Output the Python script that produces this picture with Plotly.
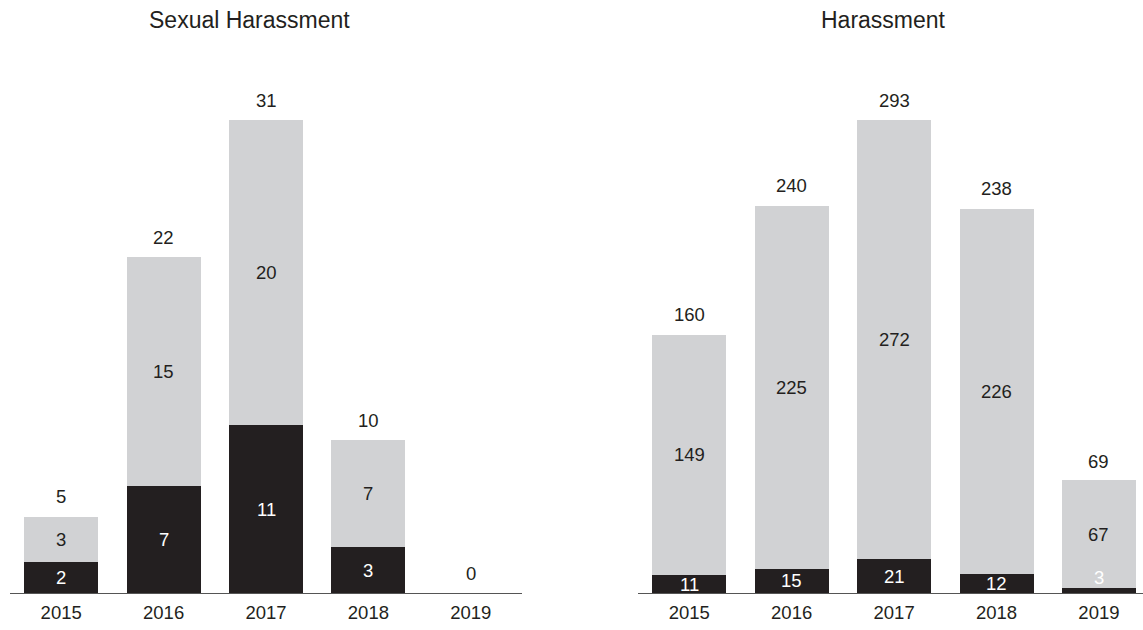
import plotly.graph_objects as go

years = ["2015", "2016", "2017", "2018", "2019"]

sh_title = "Sexual Harassment"
sh_dark = [2, 7, 11, 3, 0]
sh_light = [3, 15, 20, 7, 0]
sh_total = [5, 22, 31, 10, 0]

h_title = "Harassment"
h_dark = [11, 15, 21, 12, 3]
h_light = [149, 225, 272, 226, 67]
h_total = [160, 240, 293, 238, 69]

DARK = "#231f20"
LIGHT = "#d1d2d4"
FONT = "Liberation Sans, Arial, Helvetica, sans-serif"
NUM_SIZE = 18.5

W, H = 1143, 630
MT, MB = 120, 37
PLOT_H = H - MT - MB

fig = go.Figure()

panels = [
    dict(xa="x", ya="y", dark=sh_dark, light=sh_light, total=sh_total, title=sh_title,
         dom=[10 / W, 522 / W], rng=[-0.5, 4.5], tx=249 / W),
    dict(xa="x2", ya="y2", dark=h_dark, light=h_light, total=h_total, title=h_title,
         dom=[638 / W, 1.0], rng=[-0.5, 4.43], tx=883 / W),
]

annotations = []
for i, p in enumerate(panels):
    fig.add_trace(go.Bar(x=years, y=p["dark"], marker=dict(color=DARK, line=dict(width=0)),
                         xaxis=p["xa"], yaxis=p["ya"], showlegend=False, hoverinfo="skip"))
    fig.add_trace(go.Bar(x=years, y=p["light"], marker=dict(color=LIGHT, line=dict(width=0)),
                         xaxis=p["xa"], yaxis=p["ya"], showlegend=False, hoverinfo="skip"))
    ymax = max(p["total"])
    pxu = PLOT_H / ymax
    xr, yr_ = p["xa"], p["ya"]
    for k, (d, l, t) in enumerate(zip(p["dark"], p["light"], p["total"])):
        annotations.append(dict(x=k, y=t, xref=xr, yref=yr_,
                                text=str(t), showarrow=False, yanchor="middle", yshift=20,
                                font=dict(family=FONT, size=NUM_SIZE, color=DARK)))
        if t == 0:
            continue
        seg_px = d * pxu
        if seg_px < 8:
            shift = 16
        else:
            shift = max(seg_px / 2, 8.5)
        annotations.append(dict(x=k, y=0, xref=xr, yref=yr_,
                                text=str(d), showarrow=False, yanchor="middle", yshift=shift,
                                font=dict(family=FONT, size=NUM_SIZE, color="#ffffff")))
        annotations.append(dict(x=k, y=d + l / 2, xref=xr, yref=yr_,
                                text=str(l), showarrow=False, yanchor="middle",
                                font=dict(family=FONT, size=NUM_SIZE, color=DARK)))
    annotations.append(dict(x=p["tx"], y=1 + (MT - 20) / PLOT_H, xref="paper", yref="paper",
                            text=p["title"], showarrow=False, xanchor="center", yanchor="middle",
                            font=dict(family=FONT, size=23, color=DARK)))

common_x = dict(showgrid=False, zeroline=False, showline=True, linecolor="#555555", linewidth=1,
                ticks="", ticklabelstandoff=3,
                tickfont=dict(family=FONT, size=NUM_SIZE, color=DARK), fixedrange=True,
                type="category")
common_y = dict(showgrid=False, zeroline=False, showline=False, showticklabels=False, fixedrange=True)

fig.update_layout(
    width=W, height=H,
    margin=dict(l=0, r=0, t=MT, b=MB),
    paper_bgcolor="white", plot_bgcolor="white",
    barmode="stack", bargap=0.278,
    xaxis=dict(domain=panels[0]["dom"], range=panels[0]["rng"], anchor="y", **common_x),
    yaxis=dict(domain=[0, 1], range=[0, max(sh_total)], anchor="x", **common_y),
    xaxis2=dict(domain=panels[1]["dom"], range=panels[1]["rng"], anchor="y2", **common_x),
    yaxis2=dict(domain=[0, 1], range=[0, max(h_total)], anchor="x2", **common_y),
    annotations=annotations,
    font=dict(family=FONT),
)
fig.update_traces(cliponaxis=False)

fig.write_html("out.html", config={"displayModeBar": False},
               post_script="document.body.style.margin='0';document.body.style.overflow='hidden';")
